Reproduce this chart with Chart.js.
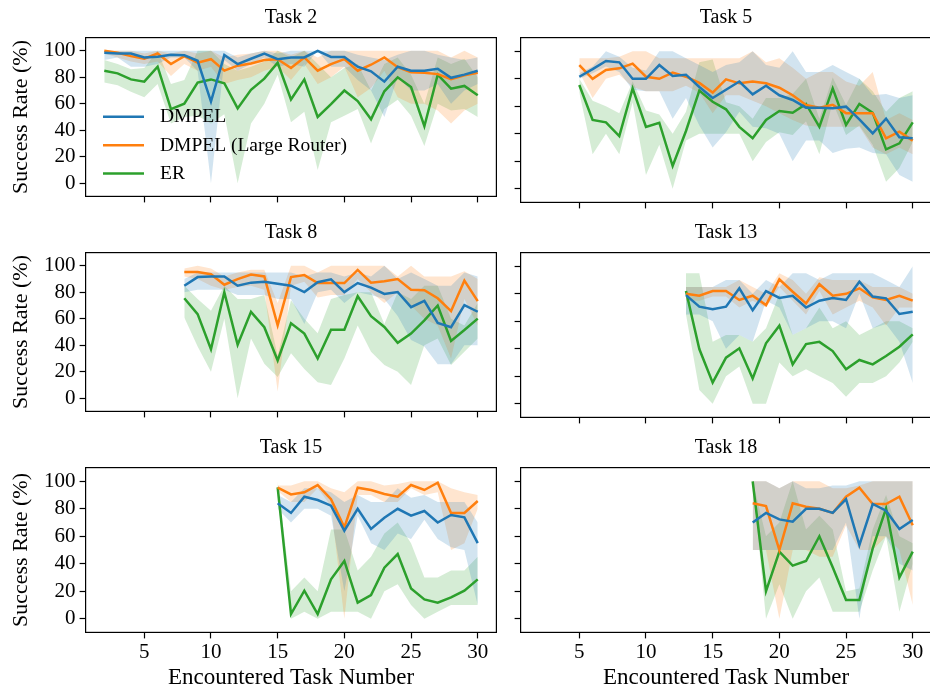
<!DOCTYPE html>
<html>
<head>
<meta charset="utf-8">
<script src="https://cdn.jsdelivr.net/npm/chart.js@4.4.0/dist/chart.umd.min.js"></script>
<style>
  html, body { margin: 0; padding: 0; background: #fff; overflow: hidden; }
  #fig { position: relative; width: 930px; height: 691px; overflow: hidden; background: #fff; }
  .panel { position: absolute; }
</style>
</head>
<body>
<div id="fig">
  <div class="panel" style="left:0px;top:0px"><canvas id="c2" width="500" height="213"></canvas></div>
  <div class="panel" style="left:500px;top:0px"><canvas id="c5" width="440" height="213"></canvas></div>
  <div class="panel" style="left:0px;top:215px"><canvas id="c8" width="500" height="213"></canvas></div>
  <div class="panel" style="left:500px;top:215px"><canvas id="c13" width="440" height="213"></canvas></div>
  <div class="panel" style="left:0px;top:430px"><canvas id="c15" width="500" height="261"></canvas></div>
  <div class="panel" style="left:500px;top:430px"><canvas id="c18" width="440" height="261"></canvas></div>
</div>
<script>
// ticks
const xTicks = [5, 10, 15, 20, 25, 30];
const yTicks = [0, 20, 40, 60, 80, 100];
const seriesNames = ['DMPEL', 'DMPEL (Large Router)', 'ER'];

// Task 2 (starts at task 2)
const dmpel2 = [98.5, 98, 98, 95, 95.6, 97, 96.6, 92.5, 61.7, 96.8, 90, 94, 98, 93.7, 95, 95, 100, 95.4, 95.4, 88, 84.5, 76.7, 88, 85, 85, 86.4, 79.6, 82, 85];
const dmpel2Lo = [93, 95, 88, 88, 90, 95, 95, 85, 0, 93, 85, 90, 95, 88, 90, 88, 100, 88, 88, 78, 70, 50, 80, 70, 70, 75, 60, 70, 75];
const dmpel2Hi = [100, 100, 100, 100, 100, 100, 100, 100, 100, 100, 95, 98, 100, 98, 100, 100, 100, 100, 100, 97, 95, 93, 97, 100, 100, 97, 95, 93, 95];
const large2 = [100, 98.6, 96, 94, 98, 90, 96, 91, 93.7, 85, 88.8, 90.5, 93, 93.7, 87, 95, 85, 90, 93.7, 85, 89.5, 95, 87.6, 83.8, 83.5, 82.4, 78.5, 81.5, 83.5];
const large2Lo = [98, 95, 92, 90, 92, 81, 90, 85, 88, 75, 78, 80, 85, 88, 78, 90, 75, 80, 88, 65, 72, 85, 65, 60, 60, 55, 45, 55, 60];
const large2Hi = [100, 100, 100, 98, 100, 98, 100, 98, 100, 95, 97, 98, 100, 100, 97, 100, 95, 100, 100, 100, 100, 100, 100, 100, 100, 100, 95, 100, 95];
const er2 = [85, 83, 78.4, 76.7, 88, 56, 60, 76, 78.4, 75.5, 56.5, 70.6, 79, 91, 63.3, 78.4, 50, 59.7, 70, 62, 48.3, 69.4, 80, 72.6, 43, 82, 71.4, 73.5, 66.5];
const er2Lo = [76, 74, 69, 65, 75, 45, 50, 51, 45, 52, 0, 45, 60, 82, 46, 54, 10, 46, 51, 56, 30, 56, 63, 51, 28, 60, 55, 56, 50];
const er2Hi = [93, 90, 86, 87, 100, 75, 78, 100, 100, 90, 85, 88, 92, 100, 95, 100, 90, 80, 87, 90, 70, 90, 95, 82, 60, 95, 90, 94, 80];

// Task 5
const dmpel5 = [81.5, 87, 93, 92, 80, 80, 90, 82, 83, 74, 66, 72, 78, 68.7, 75, 68, 64.6, 59, 59, 58.5, 59.7, 50.5, 40.3, 51, 37.4, 36.7];
const dmpel5Lo = [80, 84, 89, 85, 72, 71, 71, 51, 66, 46, 30, 41, 56, 45, 44, 40, 20, 35, 35, 26, 29, 30, 26, 25, 10, 5];
const dmpel5Hi = [84, 89, 100, 96, 88, 86, 100, 100, 95, 90, 85, 90, 92, 100, 90, 88, 100, 85, 85, 90, 85, 80, 68, 69, 66, 68];
const large5 = [90, 80, 86.4, 87.6, 91, 81.5, 80, 84.5, 81.5, 77, 70, 79.6, 76.7, 78, 76.7, 73.5, 68, 61, 59, 61, 55, 55, 55, 36.7, 41.5, 35];
const large5Lo = [85, 66, 80, 83, 74, 71, 71, 71, 75, 70, 55, 68, 68, 64, 60, 55, 50, 46, 45, 45, 45, 45, 30, 25, 30, 25];
const large5Hi = [95, 95, 95, 96, 100, 100, 95, 95, 95, 95, 95, 95, 95, 100, 92, 95, 88, 80, 85, 85, 78, 75, 85, 50, 55, 50];
const er5 = [75.5, 50, 48.3, 38.3, 73, 45, 48, 16.5, 42, 71.4, 63.3, 57.8, 45, 36.7, 50, 56.5, 55.3, 61.7, 45, 73, 46.4, 61.7, 55.3, 28.6, 33, 48.3];
const er5Lo = [70, 25, 40, 25, 63, 10, 32, 0, 35, 40, 40, 40, 40, 20, 34, 41, 39, 49, 25, 63, 39, 46, 32, 5, 15, 34];
const er5Hi = [80, 64, 60, 55, 78, 57, 54, 40, 56, 92, 94, 63, 60, 51, 66, 66, 69, 80, 51, 81, 61, 80, 71, 56, 66, 71];

// Task 8
const dmpel8 = [85, 91.5, 92, 92, 85, 87.3, 88, 86.5, 85, 80.2, 87.6, 89.8, 80.2, 87, 83.6, 78.8, 80.2, 68.8, 73.5, 56.8, 53.6, 70.3, 65.3];
const dmpel8Lo = [80, 82, 82, 82, 78, 78, 78, 75, 75, 56, 80, 82, 72, 80, 78, 75, 62, 44, 39, 25.7, 25.7, 40, 40];
const dmpel8Hi = [90, 95, 95, 95, 95, 95, 95, 95, 95, 92, 95, 95, 92, 95, 92, 100, 90, 95, 90, 85, 85, 95, 92];
const large8 = [95.4, 95.4, 93.7, 85.7, 90, 93.4, 92, 55, 91.5, 93, 87, 87, 87, 96.9, 87.2, 88.4, 90, 82, 81.6, 75.5, 65.8, 88.9, 73.3];
const large8Lo = [92, 90, 85, 82, 84, 85, 82, 5, 85, 88, 76, 78, 78, 90, 80, 72, 80, 70, 60, 55, 30, 75, 55];
const large8Hi = [98, 100, 98, 92, 95, 97, 97, 72, 100, 100, 95, 100, 100, 100, 100, 100, 92, 100, 92, 92, 92, 96, 90];
const er8 = [75.5, 63.5, 37, 80, 40.3, 65.2, 53.6, 28.5, 56.6, 48.8, 30, 51.7, 51.7, 77, 62, 53.8, 41.8, 48.8, 58.8, 70, 43.3, 51.5, 60.1];
const er8Lo = [61, 39, 20, 60, 0, 45, 26, 16, 34, 22, 12, 10, 30, 55, 35, 25, 20, 10, 40, 45, 25, 35, 45];
const er8Hi = [85, 75, 66, 85, 75, 75, 78, 32, 74, 60, 49, 75, 78, 80, 80, 56, 80, 75, 85, 85, 60, 55, 72];

// Task 13
const dmpel13 = [79, 70.6, 68.7, 70.6, 84, 68, 82, 77, 78.6, 70, 75, 77, 75.5, 88.8, 78, 76.7, 65.3, 67];
const dmpel13Lo = [65, 65, 60, 40, 50, 45, 75, 70, 50, 55, 60, 60, 55, 80, 55, 58, 45, 15];
const dmpel13Hi = [85, 85, 85, 90, 90, 80, 90, 85, 95, 95, 90, 95, 95, 95, 95, 90, 85, 100];
const large13 = [80, 78.6, 82, 82, 75.5, 78.6, 71.8, 90.5, 81.5, 73, 87, 78.6, 80, 84, 77.4, 75.5, 78.6, 75];
const large13Lo = [75, 75, 78, 78, 70, 75, 70, 85, 75, 65, 82, 65, 70, 75, 70, 57, 70, 70];
const large13Hi = [85, 85, 85, 85, 90, 85, 80, 95, 90, 80, 92, 90, 90, 90, 85, 85, 85, 80];
const er13 = [82, 39.8, 15.3, 33.5, 40.3, 18.4, 44, 56.8, 28.6, 43.4, 45, 38.3, 25, 31.8, 28.6, 34.7, 41.5, 50.5];
const er13Lo = [65, 10, 0, 20, 27, 0, 0, 30, 20, 25, 20, 15, 5, 15, 15, 20, 30, 45];
const er13Hi = [95, 95, 45, 50, 50, 45, 55, 80, 50, 55, 70, 55, 60, 50, 55, 60, 60, 55];

// Task 15
const dmpel15 = [84, 77, 88.8, 86.4, 82.3, 64, 80, 65.3, 73.5, 80, 75, 78.4, 70, 75.5, 73.8, 55];
const dmpel15Lo = [80, 70, 80, 80, 75, 20, 75, 55, 50, 62, 58, 72, 58, 52, 50, 10];
const dmpel15Hi = [90, 85, 95, 95, 92, 85, 90, 85, 85, 95, 88, 90, 85, 85, 85, 70];
const large15 = [95.4, 90.5, 92, 97.3, 87, 66.5, 95.4, 93.7, 90.8, 88.8, 97.3, 93.7, 99, 77, 77, 85.7];
const large15Lo = [93, 85, 85, 95, 82, 0, 90, 90, 85, 85, 95, 90, 92, 50, 55, 80];
const large15Hi = [97, 97, 100, 100, 95, 92, 100, 100, 97, 98, 100, 100, 100, 95, 92, 90];
const er15 = [95.6, 3.4, 20.4, 3.4, 28.6, 42, 11.7, 17.2, 37.1, 47, 22, 14, 11.7, 15.5, 20.4, 28.6];
const er15Lo = [90, 0, 5, 0, 5, 5, 5, 0, 20, 25, 10, 0, 5, 10, 10, 10];
const er15Hi = [100, 20, 30, 20, 65, 65, 35, 45, 62, 70, 55, 30, 30, 35, 35, 45];

// Task 18
const dmpel18 = [70, 77, 72.3, 70.6, 80, 80, 77, 87, 53.6, 83.5, 78.6, 65.3, 71.8];
const dmpel18Lo = [50, 50, 50, 50, 50, 50, 50, 70, 0, 60, 60, 40, 35];
const dmpel18Hi = [100, 100, 95, 100, 95, 95, 97, 97, 100, 100, 100, 100, 100];
const large18 = [84, 82, 50, 84, 81.5, 80, 77, 88.8, 95.4, 83.5, 83.5, 88.8, 68];
const large18Lo = [50, 50, 0, 50, 50, 45, 45, 68, 50, 50, 60, 50, 10];
const large18Hi = [100, 100, 95, 100, 100, 100, 95, 95, 97, 100, 100, 100, 100];
const er18 = [100, 20, 48.8, 38.6, 42, 60, 37.4, 13.6, 13.6, 51.2, 80.3, 30, 48.8];
const er18Lo = [100, 0, 25, 0, 20, 30, 5, 5, 5, 35, 60, 5, 40];
const er18Hi = [100, 60, 70, 100, 65, 75, 65, 20, 22, 65, 90, 60, 55];

const FONT = "'Liberation Serif', 'Times New Roman', serif";
const colors = ['#1f77b4', '#ff7f0e', '#2ca02c'];
const bands = ['rgba(31,119,180,0.2)', 'rgba(255,127,14,0.2)', 'rgba(44,160,44,0.2)'];

function pts(start, arr) {
    return arr.map((v, i) => ({ x: start + i, y: v }));
}

// box around every axes
const framePlugin = {
    id: 'frame',
    afterDatasetsDraw(chart) {
        const { ctx, chartArea: a } = chart;
        ctx.save();
        ctx.strokeStyle = '#000';
        ctx.lineWidth = 1.2;
        ctx.strokeRect(a.left, a.top, a.right - a.left, a.bottom - a.top);
        ctx.restore();
    }
};

// legend inside the Task 2 axes, no frame
const legendPlugin = {
    id: 'innerLegend',
    afterDatasetsDraw(chart, args, opts) {
        if (!opts.show) return;
        const { ctx, chartArea: a } = chart;
        ctx.save();
        ctx.font = '19.5px ' + FONT;
        ctx.textBaseline = 'middle';
        ctx.textAlign = 'left';
        for (let i = 0; i < 3; i++) {
            const ds = chart.data.datasets[i];
            const y = a.top + 79.2 + i * 28.4;
            ctx.strokeStyle = ds.borderColor;
            ctx.lineWidth = 2.5;
            ctx.beginPath();
            ctx.moveTo(a.left + 17.4, y);
            ctx.lineTo(a.left + 58.4, y);
            ctx.stroke();
            ctx.fillStyle = '#000';
            ctx.fillText(ds.label, a.left + 74.4, y + 0.5);
        }
        ctx.restore();
    }
};

function crearPanel(id, title, start, series, isLeft, isBottom, showLegend) {
    const datasets = [];
    series.forEach((s, k) => {
        datasets.push({
            label: seriesNames[k],
            data: pts(start, s[0]),
            borderColor: colors[k],
            borderWidth: 2.5,
            pointRadius: 0,
            fill: false,
            tension: 0,
            order: 0
        });
    });
    series.forEach((s, k) => {
        datasets.push({
            label: seriesNames[k] + ' lo',
            data: pts(start, s[1]),
            borderColor: 'transparent',
            borderWidth: 0,
            pointRadius: 0,
            fill: false,
            order: 1
        });
        datasets.push({
            label: seriesNames[k] + ' hi',
            data: pts(start, s[2]),
            borderColor: 'transparent',
            backgroundColor: bands[k],
            borderWidth: 0,
            pointRadius: 0,
            fill: '-1',
            order: 1
        });
    });

    const canvas = document.getElementById(id);
    const xAxisH = canvas.height - 37.6 - 164.8;
    const tickFont = { family: FONT, size: 21 };

    new Chart(canvas.getContext('2d'), {
        type: 'line',
        data: { datasets: datasets },
        options: {
            responsive: false,
            animation: false,
            devicePixelRatio: 1,
            layout: { padding: { left: 0, top: 0, bottom: 0, right: isLeft ? 3.6 : 8.6 } },
            plugins: {
                legend: { display: false },
                tooltip: { enabled: false },
                title: {
                    display: true,
                    text: title,
                    fullSize: false,
                    color: '#000',
                    font: { family: FONT, size: 20, weight: 'normal' },
                    padding: { top: 6, bottom: 7.6 }
                },
                innerLegend: { show: showLegend }
            },
            scales: {
                x: {
                    type: 'linear',
                    min: 0.6,
                    max: 31.4,
                    afterBuildTicks: (sc) => { sc.ticks = xTicks.map(v => ({ value: v })); },
                    afterFit: (sc) => { sc.height = xAxisH; },
                    border: { display: false },
                    grid: { drawOnChartArea: false, drawTicks: true, tickLength: 6, tickColor: '#000', tickWidth: 1.2 },
                    ticks: { display: isBottom, color: '#000', font: tickFont, padding: 1, maxRotation: 0 },
                    title: {
                        display: isBottom,
                        text: 'Encountered Task Number',
                        color: '#000',
                        font: { family: FONT, size: 23 },
                        padding: { top: 0, bottom: -1 }
                    }
                },
                y: {
                    min: -10,
                    max: 110,
                    afterBuildTicks: (sc) => { sc.ticks = yTicks.map(v => ({ value: v })); },
                    afterFit: (sc) => { sc.width = isLeft ? 85.6 : 20.6; },
                    border: { display: false },
                    grid: { drawOnChartArea: false, drawTicks: true, tickLength: 6, tickColor: '#000', tickWidth: 1.2 },
                    ticks: { display: isLeft, color: '#000', font: tickFont, padding: 4 },
                    title: {
                        display: isLeft,
                        text: 'Success Rate (%)',
                        color: '#000',
                        font: { family: FONT, size: 22 },
                        padding: { top: 8, bottom: 0 }
                    }
                }
            }
        },
        plugins: [framePlugin, legendPlugin]
    });
}

crearPanel('c2', 'Task 2', 2, [[dmpel2, dmpel2Lo, dmpel2Hi], [large2, large2Lo, large2Hi], [er2, er2Lo, er2Hi]], true, false, true);
crearPanel('c5', 'Task 5', 5, [[dmpel5, dmpel5Lo, dmpel5Hi], [large5, large5Lo, large5Hi], [er5, er5Lo, er5Hi]], false, false, false);
crearPanel('c8', 'Task 8', 8, [[dmpel8, dmpel8Lo, dmpel8Hi], [large8, large8Lo, large8Hi], [er8, er8Lo, er8Hi]], true, false, false);
crearPanel('c13', 'Task 13', 13, [[dmpel13, dmpel13Lo, dmpel13Hi], [large13, large13Lo, large13Hi], [er13, er13Lo, er13Hi]], false, false, false);
crearPanel('c15', 'Task 15', 15, [[dmpel15, dmpel15Lo, dmpel15Hi], [large15, large15Lo, large15Hi], [er15, er15Lo, er15Hi]], true, true, false);
crearPanel('c18', 'Task 18', 18, [[dmpel18, dmpel18Lo, dmpel18Hi], [large18, large18Lo, large18Hi], [er18, er18Lo, er18Hi]], false, true, false);
</script>
</body>
</html>
